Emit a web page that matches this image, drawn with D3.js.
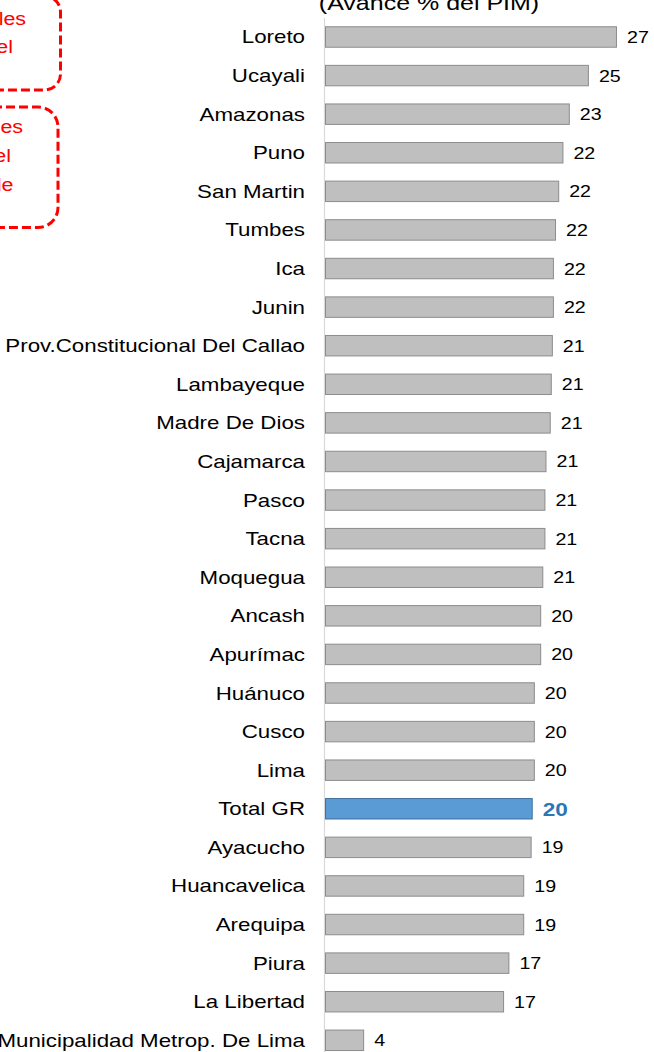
<!DOCTYPE html>
<html>
<head>
<meta charset="utf-8">
<script src="https://cdn.jsdelivr.net/npm/d3@7"></script>
<style>
    body { margin: 0; background: #fff; }
    svg { display: block; font-family: "Liberation Sans", Arial, sans-serif; }
</style>
</head>
<body>
<svg id="chart" width="654" height="1052"></svg>
<script>
// regions, ordered as in the chart (top to bottom)
const regions = [
    "Loreto", "Ucayali", "Amazonas", "Puno", "San Martin", "Tumbes", "Ica", "Junin",
    "Prov.Constitucional Del Callao", "Lambayeque", "Madre De Dios", "Cajamarca", "Pasco",
    "Tacna", "Moquegua", "Ancash", "Apurímac", "Huánuco", "Cusco", "Lima", "Total GR",
    "Ayacucho", "Huancavelica", "Arequipa", "Piura", "La Libertad",
    "Municipalidad Metrop. De Lima"
];
// avance % del PIM
const avance = [
    27.45, 24.8, 23.0, 22.4, 22.0, 21.7, 21.5, 21.5,
    21.4, 21.3, 21.2, 20.8, 20.7,
    20.7, 20.5, 20.3, 20.3, 19.7, 19.7, 19.7, 19.5,
    19.4, 18.7, 18.7, 17.3, 16.8,
    3.6
];
const highlight = "Total GR";
const title = "(Avance % del PIM)";
// the two callout boxes are cut by the left edge of the picture
const noteTop = ["Gobiernos Regionales", "con mayor avance del"];
const noteBottom = ["Gobiernos Regionales", "con menor avance del", "PIM que el promedio de"];

const data = regions.map((r, i) => ({region: r, value: avance[i]}));

const svg = d3.select("#chart");
const stretch = 1.19;       // the source text is drawn wide
const labelStretch = 1.24;

const x = d3.scaleLinear().domain([0, 30]).range([325, 325 + 318]);
const y = d3.scaleBand()
    .domain(regions)
    .range([17.7, 1059.6])
    .paddingInner(0.47)
    .paddingOuter(0.235);

// title, mostly cut off at the top
svg.append("text")
    .attr("transform", `translate(429,9.5) scale(${stretch},1)`)
    .attr("text-anchor", "middle")
    .attr("font-size", 21)
    .attr("fill", "#000")
    .text(title);

// axis line
svg.append("line")
    .attr("x1", x(0) - 0.5).attr("x2", x(0) - 0.5)
    .attr("y1", 18).attr("y2", 1052)
    .attr("stroke", "#d9d9d9")
    .attr("stroke-width", 1.2);

const rows = svg.selectAll(".row")
    .data(data)
    .enter().append("g")
    .attr("class", "row");

rows.append("rect")
    .attr("x", x(0) + 0.5)
    .attr("y", d => y(d.region))
    .attr("width", d => x(d.value) - x(0))
    .attr("height", y.bandwidth())
    .attr("fill", d => d.region === highlight ? "#5b9bd5" : "#bfbfbf")
    .attr("stroke", d => d.region === highlight ? "#41719c" : "#8c8c8c")
    .attr("stroke-width", 1);

rows.append("text")
    .attr("transform", d => `translate(305,${y(d.region) + y.bandwidth() / 2 + 6.5}) scale(${labelStretch},1)`)
    .attr("text-anchor", "end")
    .attr("font-size", 18)
    .attr("fill", "#000")
    .text(d => d.region);

rows.append("text")
    .attr("transform", d => `translate(${x(d.value) + 11},${y(d.region) + y.bandwidth() / 2 + (d.region === highlight ? 7 : 6)}) scale(${stretch},1)`)
    .attr("font-size", d => d.region === highlight ? 19 : 16.5)
    .attr("font-weight", d => d.region === highlight ? "bold" : "normal")
    .attr("fill", d => d.region === highlight ? "#2e75b6" : "#000")
    .text(d => Math.round(d.value));

// callout boxes
function callout(x1, y1, x2, y2, r, lines, ends, firstBaseline, lineStep) {
    svg.append("rect")
        .attr("x", x1).attr("y", y1)
        .attr("width", x2 - x1).attr("height", y2 - y1)
        .attr("rx", r).attr("ry", r)
        .attr("fill", "none")
        .attr("stroke", "#ff0000")
        .attr("stroke-width", 3)
        .attr("stroke-dasharray", "9,4");
    lines.forEach(function(t, i) {
        svg.append("text")
            .attr("transform", `translate(${ends[i]},${firstBaseline + i * lineStep}) scale(${stretch},1)`)
            .attr("text-anchor", "end")
            .attr("font-size", 18)
            .attr("fill", "#ff0000")
            .text(t);
    });
}
callout(-40, -4, 60.5, 90, 16, noteTop, [26, 13], 25, 28);
callout(-40, 107, 58, 227.5, 20, noteBottom, [23, 11, 13.5], 133, 29);
</script>
</body>
</html>
